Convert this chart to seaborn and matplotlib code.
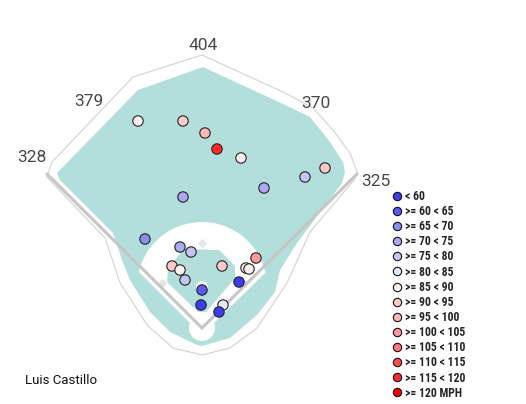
import numpy as np
import pandas as pd
import matplotlib
matplotlib.use("Agg")
import matplotlib.pyplot as plt
from matplotlib.lines import Line2D
from matplotlib.patches import Polygon, Circle
from matplotlib import font_manager
import seaborn as sns

# ---------------- data ----------------
pitcher = "Luis Castillo"
speed_bins = ["< 60", ">= 60 < 65", ">= 65 < 70", ">= 70 < 75", ">= 75 < 80",
              ">= 80 < 85", ">= 85 < 90", ">= 90 < 95", ">= 95 < 100",
              ">= 100 < 105", ">= 105 < 110", ">= 110 < 115", ">= 115 < 120",
              ">= 120 MPH"]
bin_colors = ["#3c3cf0", "#5a5af0", "#8c8cf2", "#a9a9f5", "#c4c4f7", "#e6e6fa",
              "#fff0f0", "#ffcaca", "#ffb6b6", "#ff9898", "#ff7474", "#ff4c4c",
              "#ff2828", "#ff0000"]

hit_x = [138, 183, 205, 217, 241, 264, 305, 325, 183, 145, 180, 191, 172, 180,
         185, 202, 201, 256, 222, 246, 249, 239, 223, 219]
hit_y = [121, 121, 133, 149, 158, 188, 177, 168, 197, 239, 247, 252, 266, 270,
         280, 290, 305, 258, 266, 268, 269, 282, 305, 312]
hit_bin = [">= 85 < 90", ">= 90 < 95", ">= 95 < 100", ">= 115 < 120", ">= 85 < 90",
           ">= 70 < 75", ">= 75 < 80", ">= 90 < 95", ">= 70 < 75", ">= 65 < 70",
           ">= 70 < 75", ">= 75 < 80", ">= 90 < 95", ">= 85 < 90", ">= 75 < 80",
           ">= 60 < 65", "< 60", ">= 100 < 105", ">= 90 < 95", ">= 85 < 90",
           ">= 85 < 90", "< 60", ">= 80 < 85", "< 60"]

fence_labels = ["328", "379", "404", "370", "325"]
fence_label_xy = [(32, 158), (89, 101), (203, 45), (316, 104), (376, 181)]

# ---------------- field geometry (chart units) ----------------
home = (202, 328)
mound = (202, 287)
wall = [(47, 177), (52, 162), (133, 77), (202, 55), (283, 92), (313, 108),
        (333, 130), (350, 153), (357, 172), (354, 180), (310, 232), (287, 283),
        (267, 313), (257, 328), (230, 348), (202, 355), (173, 348), (147, 325),
        (130, 298), (120, 283), (105, 238), (47, 177)]
grass = [(57, 173), (138, 90), (203, 67), (283, 104), (310, 117), (330, 142),
         (343, 162), (345, 172), (342, 183), (297, 243), (280, 270), (275, 292),
         (257, 315), (230, 338), (202, 346), (197, 345), (170, 332), (150, 312),
         (130, 280), (122, 260), (113, 233), (60, 180)]
t = np.linspace(np.radians(14), np.radians(166), 60)
arc = [(mound[0] + 65 * np.cos(a), mound[1] - 65 * np.sin(a)) for a in t]
dirt = arc + [(139, 272), (200, 333), (204, 333), (266, 272)]
infield_grass = [(184, 249), (219, 250), (235, 266), (235, 278), (206, 312),
                 (198, 312), (167, 282), (168, 268)]
bases = [(202, 243), (162, 283), (243, 283)]

df = pd.DataFrame({"x": hit_x, "y": hit_y, "speed": hit_bin})
palette = dict(zip(speed_bins, bin_colors))

# pick a condensed bold font if one is installed
names = {f.name for f in font_manager.fontManager.ttflist}
narrow = [n for n in ["Liberation Sans Narrow", "Roboto Condensed",
                      "DejaVu Sans Condensed", "Open Sans Condensed"] if n in names]
legend_family = narrow + ["DejaVu Sans"]

# ---------------- drawing ----------------
sns.set_theme(style="white")
plt.rcParams["font.family"] = ["Roboto", "DejaVu Sans"]

fig = plt.figure(figsize=(5.26, 4.04), dpi=100)
ax = fig.add_axes([0, 0, 1, 1])
ax.set_xlim(0, 526)
ax.set_ylim(404, 0)
ax.set_aspect("equal")
ax.axis("off")

teal = "#b2dfdb"
ax.add_patch(Polygon(grass, closed=True, fc=teal, ec="none", zorder=1))
ax.add_patch(Polygon(dirt, closed=True, fc="white", ec="none", zorder=2))
ax.add_patch(Polygon(infield_grass, closed=True, fc=teal, ec="none", zorder=3))
ax.add_patch(Circle(mound, 6, fc="white", ec="none", zorder=4))
ax.add_patch(Circle(home, 13, fc="white", ec="none", zorder=4))
bx, by = zip(*bases)
ax.scatter(bx, by, marker="D", s=22, c="#e6e6e6", lw=0, zorder=5)
wx, wy = zip(*wall)
ax.plot(wx, wy, color="#d6d6d6", lw=0.9, zorder=5)
ax.plot([47, home[0], 357], [174, home[1], 174], color="#c6c6c6", lw=2.2,
        solid_joinstyle="miter", zorder=6)

sns.scatterplot(data=df, x="x", y="y", hue="speed", hue_order=speed_bins,
                palette=palette, s=56, edgecolor="#222222", linewidth=0.8,
                legend=False, ax=ax, zorder=10)

for lab, (lx, ly) in zip(fence_labels, fence_label_xy):
    ax.text(lx, ly, lab, ha="center", va="center", fontsize=12.5,
            fontweight="normal", color="#484848", zorder=11)

ax.text(25, 381, pitcher, ha="left", va="center", fontsize=9.5,
        color="#111111", zorder=11)

handles = [Line2D([0], [0], marker="o", linestyle="none", markersize=6,
                  markerfacecolor=c, markeredgecolor="#111111",
                  markeredgewidth=0.8) for c in bin_colors]
leg = ax.legend(handles, speed_bins, loc="upper left",
                bbox_to_anchor=(390 / 526, 1 - 190 / 404), frameon=False,
                handletextpad=0.1, handlelength=1.2, labelspacing=0.18,
                borderaxespad=0, borderpad=0,
                prop={"family": legend_family, "weight": "bold",
                      "stretch": "condensed", "size": 8.5})

fig.savefig("out.png", dpi=100)
